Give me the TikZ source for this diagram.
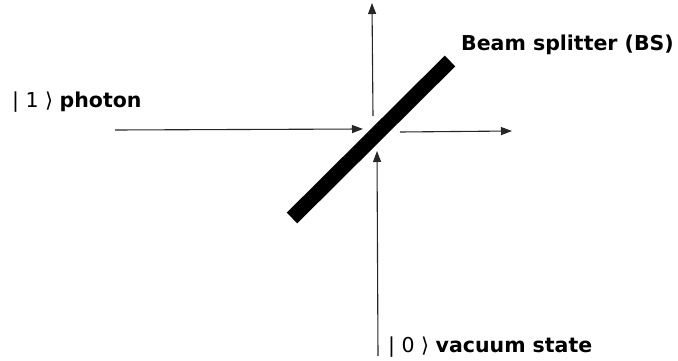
\documentclass[tikz,border=0pt]{standalone}
\usepackage{fontspec}
\setmainfont{DejaVu Sans}
\usetikzlibrary{arrows.meta}
\begin{document}
\begin{tikzpicture}[x=1pt,y=-1pt,
  ray/.style={-{Triangle[length=11pt,width=8pt]}, line width=1.1pt, black!85},
  lbl/.style={anchor=west, inner sep=0pt, font=\fontsize{20.5}{23}\selectfont},
  splitter/.style={line width=15pt, black}]
\useasboundingbox (0,0) rectangle (678,361);
% beam splitter
\coordinate (bsA) at (292,218);
\coordinate (bsB) at (450,61);
\draw[splitter] (bsA) -- (bsB);
% rays
\coordinate (inL) at (115,130);
\coordinate (inLend) at (363,129);
\coordinate (outR0) at (400,132);
\coordinate (outR) at (512,131);
\coordinate (outU0) at (373,116);
\coordinate (outU) at (372,3);
\coordinate (inB) at (378,356);
\coordinate (inBend) at (377,151);
\draw[ray] (inL) -- (inLend);
\draw[ray] (outR0) -- (outR);
\draw[ray] (outU0) -- (outU);
\draw[ray] (inB) -- (inBend);
% labels
\node[lbl] (photon) at (12,102) {| 1 ⟩ \textbf{photon}};
\node[lbl] (bs) at (461,45) {\textbf{Beam splitter (BS)}};
\node[lbl] (vac) at (388,347) {| 0 ⟩ \textbf{vacuum state}};
\end{tikzpicture}
\end{document}
